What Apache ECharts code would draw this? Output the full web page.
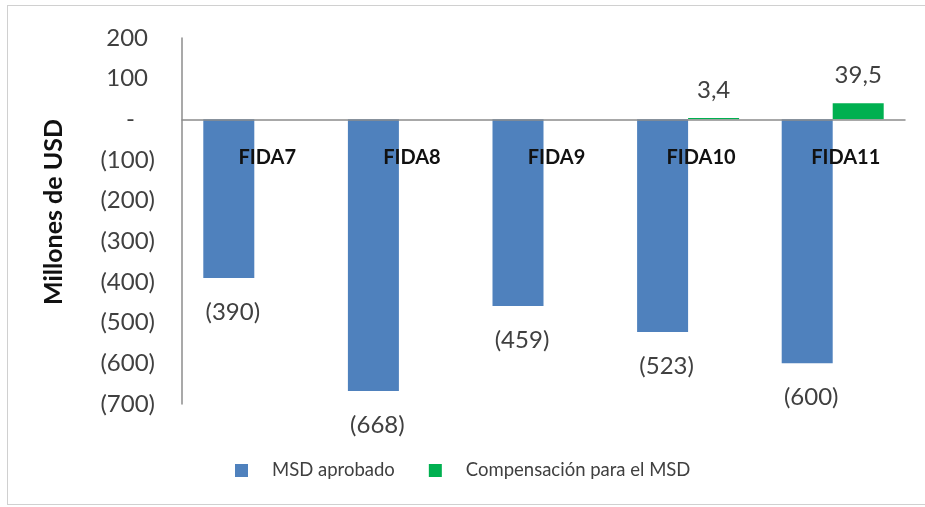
<!DOCTYPE html>
<html>
<head>
<meta charset="utf-8">
<script src="https://cdn.jsdelivr.net/npm/echarts@6/dist/echarts.min.js"></script>
<style>
  html, body { margin: 0; padding: 0; background: #fff; }
  #wrap { position: relative; width: 925px; height: 507px; overflow: hidden; }
  #frame { position: absolute; left: 7px; top: 5px; width: 940px; height: 500px; border: 1px solid #d0d0d0; box-sizing: border-box; }
  #chart { position: absolute; left: 0; top: 0; width: 925px; height: 507px; }
</style>
</head>
<body>
<div id="wrap">
  <div id="frame"></div>
  <div id="chart"></div>
</div>
<script>
const categories = ['FIDA7', 'FIDA8', 'FIDA9', 'FIDA10', 'FIDA11']
const msdAprobado = [-390, -668, -459, -523, -600]
const compensacion = [null, null, null, 3.4, 39.5]
const seriesNames = ['MSD aprobado', 'Compensación para el MSD']
const yTitle = 'Millones de USD'

const font = 'Lato, "Noto Sans", sans-serif'
const textColor = '#404040'
const axisColor = '#8c8c8c'

// accounting style: (390), -, 3,4
function fmt(v) {
  if (v === 0) return '-'
  if (v < 0) return '(' + Math.abs(v) + ')'
  return String(v).replace('.', ',')
}

const chart = echarts.init(document.getElementById('chart'), null, { width: 925, height: 507 })

chart.setOption({
  animation: false,
  textStyle: { fontFamily: font },
  grid: { left: 182, right: 20, top: 38, bottom: 103 },
  legend: {
    left: 230,
    top: 456,
    itemWidth: 13,
    itemHeight: 13,
    itemGap: 34,
    icon: 'rect',
    textStyle: { fontFamily: font, fontSize: 18.5, color: textColor, padding: [0, 0, 0, 19] },
    data: seriesNames,
  },
  xAxis: {
    type: 'category',
    data: categories,
    z: 5,
    axisLine: { onZero: true, lineStyle: { color: axisColor, width: 1.5 } },
    axisTick: { show: false },
    // labels sit just under the zero line, over the bars
    axisLabel: {
      margin: -256,
      fontFamily: font,
      fontSize: 20,
      fontWeight: 'bold',
      color: '#111',
      padding: [0, 0, 0, 26],
    },
  },
  yAxis: {
    type: 'value',
    min: -700,
    max: 200,
    interval: 100,
    name: yTitle,
    nameLocation: 'middle',
    nameRotate: 90,
    nameGap: 116,
    nameTextStyle: { fontFamily: font, fontSize: 25, fontWeight: 'bold', color: '#111', padding: [0, 0, 0, 18] },
    axisLine: { show: true, lineStyle: { color: axisColor, width: 1.5 } },
    axisTick: { show: false },
    splitLine: { show: false },
    axisLabel: {
      margin: 27,
      fontFamily: font,
      fontSize: 24,
      color: textColor,
      formatter: (v) => v === 0 ? '{z|-}' : v > 0 ? '{p|' + v + '}' : '{n|' + fmt(v) + '}',
      rich: {
        z: { fontFamily: font, fontSize: 24, color: textColor, padding: [0, 20, 0, 0] },
        p: { fontFamily: font, fontSize: 24, color: textColor, padding: [0, 7, 0, 0] },
        n: { fontFamily: font, fontSize: 24, color: textColor },
      },
    },
  },
  series: [
    {
      name: seriesNames[0],
      type: 'bar',
      data: msdAprobado,
      barWidth: 51,
      barGap: '0%',
      itemStyle: { color: '#4f81bd' },
      label: {
        show: true,
        position: 'bottom',
        distance: 22,
        fontFamily: font,
        fontSize: 24,
        color: textColor,
        padding: [0, 0, 0, 8],
        formatter: (p) => fmt(p.value),
      },
    },
    {
      name: seriesNames[1],
      type: 'bar',
      data: compensacion,
      barWidth: 51,
      itemStyle: { color: '#00b050' },
      label: {
        show: true,
        position: 'top',
        distance: 16,
        fontFamily: font,
        fontSize: 24,
        color: textColor,
        formatter: (p) => fmt(p.value),
      },
    },
  ],
})
</script>
</body>
</html>
